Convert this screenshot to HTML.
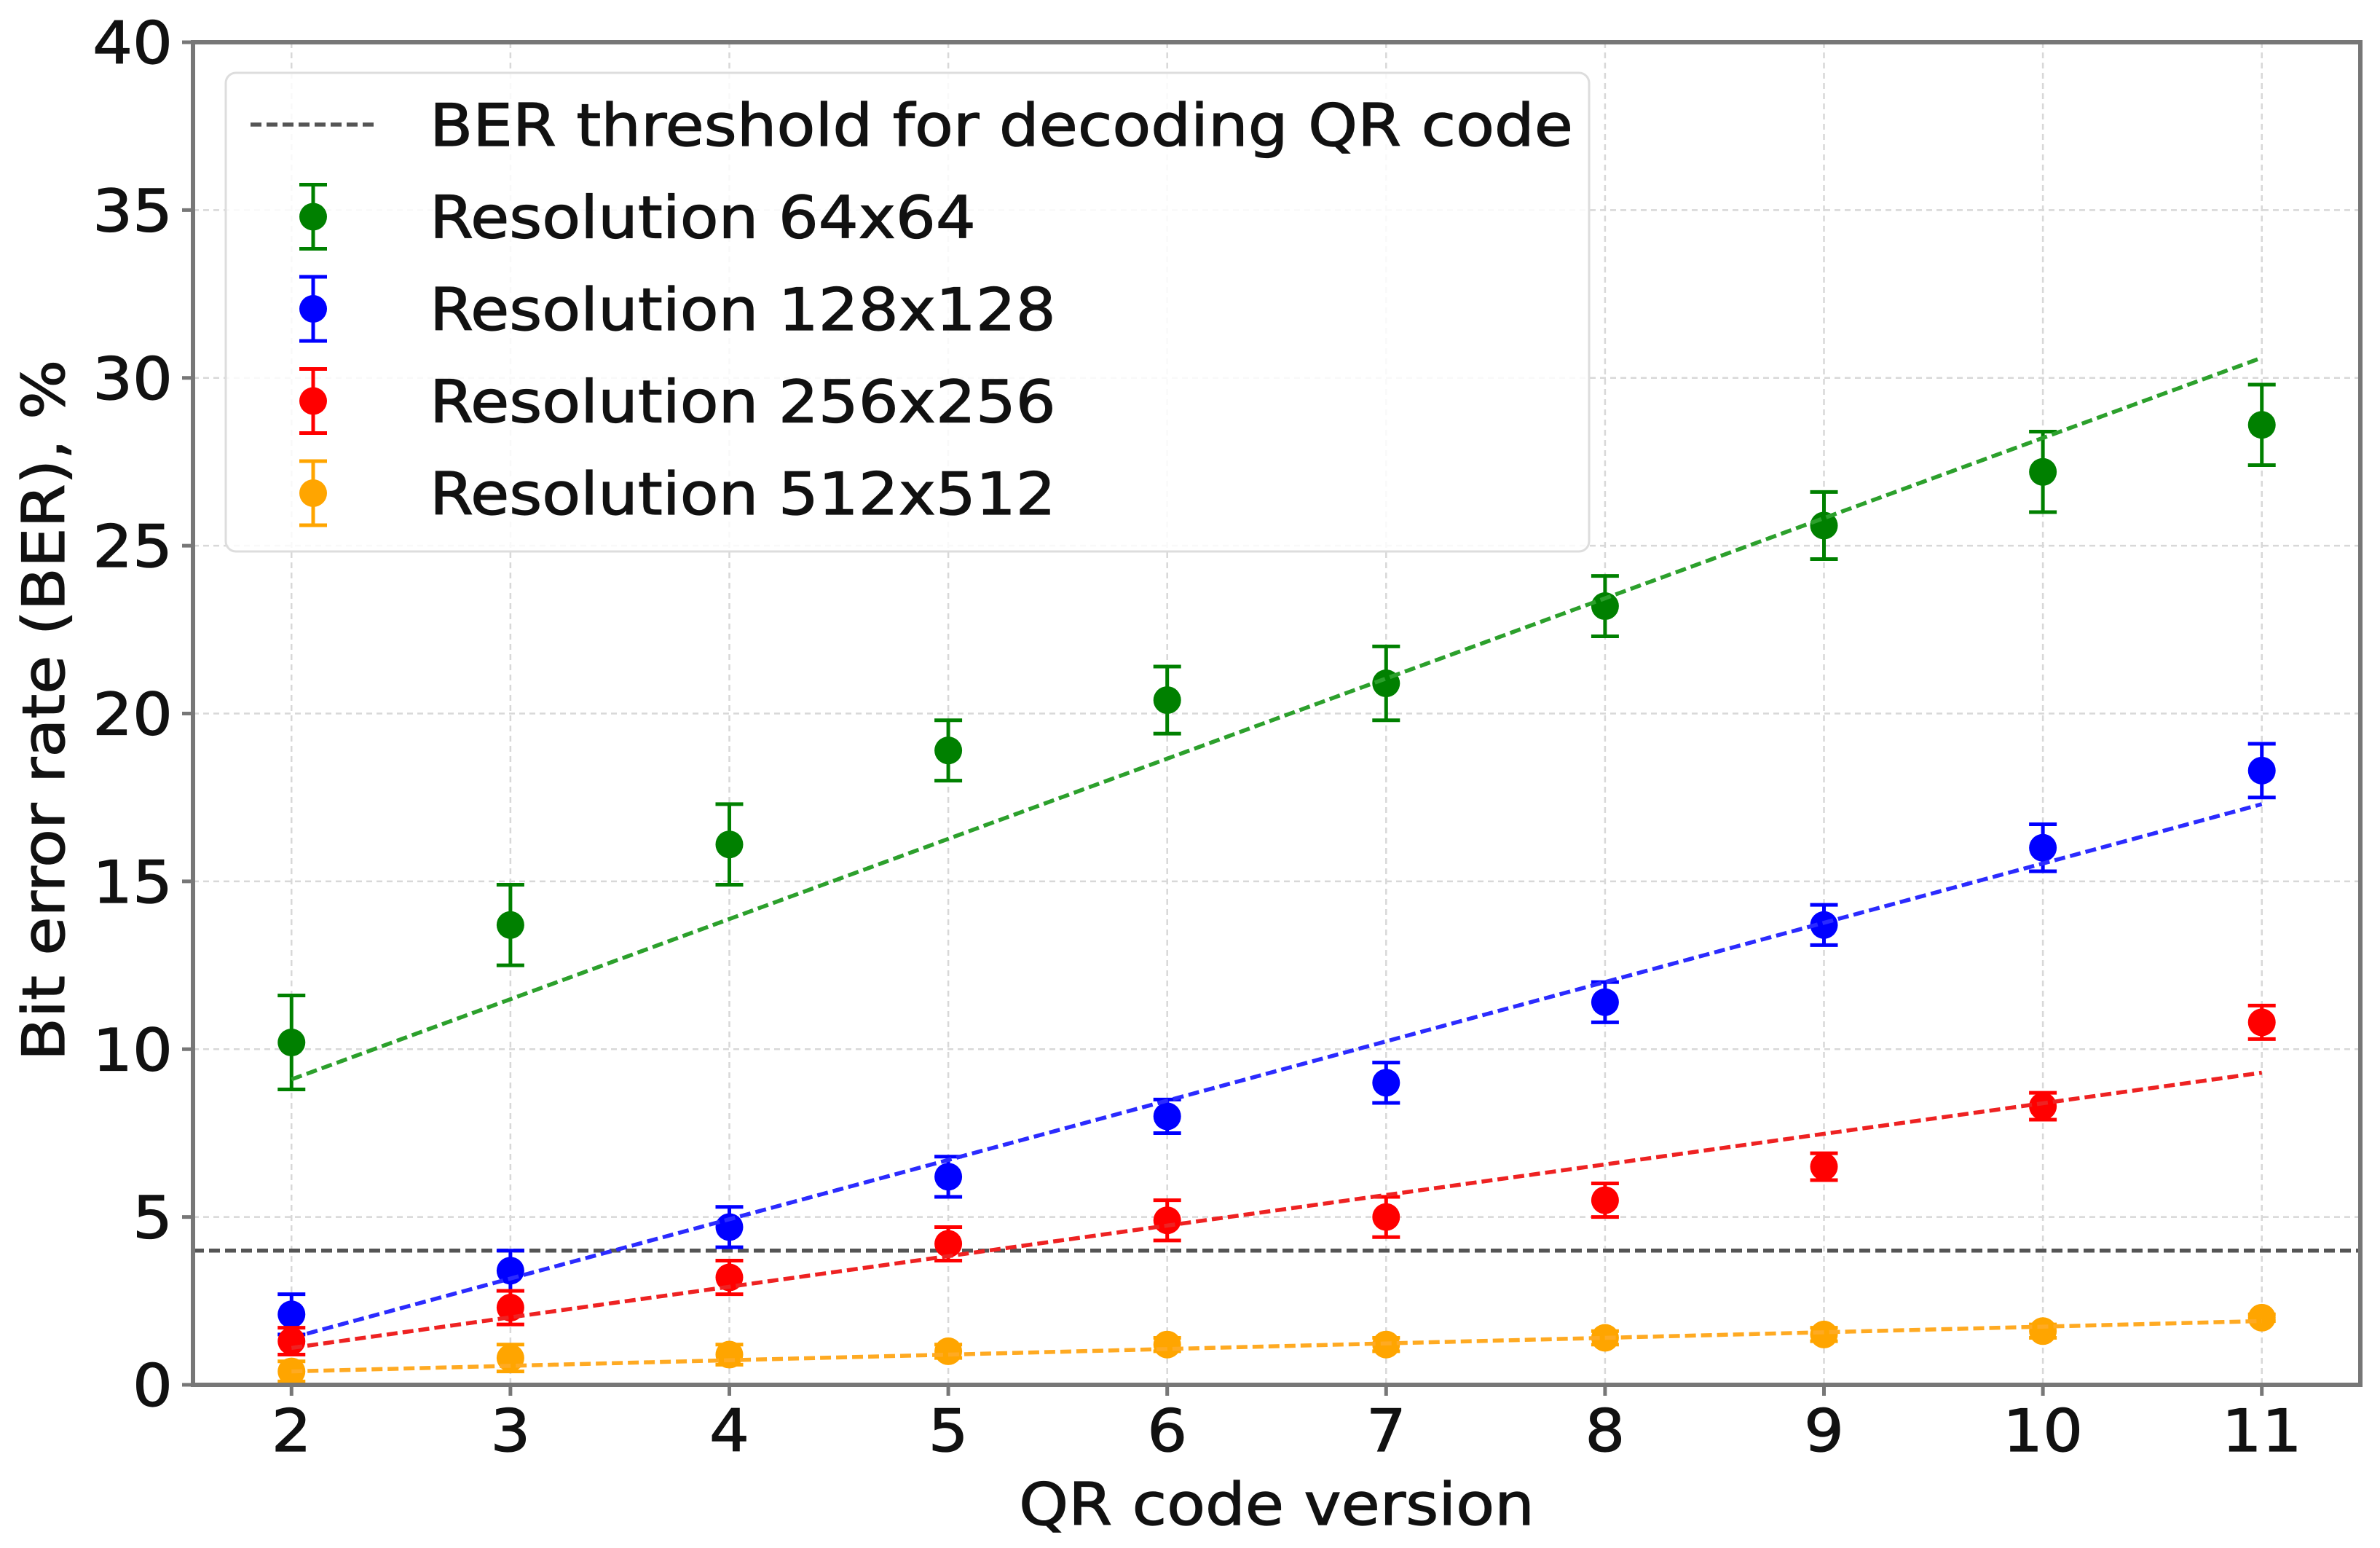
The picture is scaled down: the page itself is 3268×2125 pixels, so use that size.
<!DOCTYPE html>
<html><head><meta charset="utf-8"><style>
html,body{margin:0;padding:0;background:#fff;}
svg{display:block;font-family:"DejaVu Sans","Liberation Sans",sans-serif;}
text{stroke:#111;stroke-width:1.2px;}
</style></head><body>
<svg id="chart" width="3268" height="2125" viewBox="0 0 3268 2125" xmlns="http://www.w3.org/2000/svg"></svg>
<script>
const versions=[2,3,4,5,6,7,8,9,10,11];
const xTicks=[2,3,4,5,6,7,8,9,10,11];
const yTicks=[0,5,10,15,20,25,30,35,40];
const threshold=4.0;
const green=[10.2,13.7,16.1,18.9,20.4,20.9,23.2,25.6,27.2,28.6];
const greenErr=[1.4,1.2,1.2,0.9,1.0,1.1,0.9,1.0,1.2,1.2];
const greenFit=[9.1,30.6];
const blue=[2.1,3.4,4.7,6.2,8.0,9.0,11.4,13.7,16.0,18.3];
const blueErr=[0.6,0.6,0.6,0.6,0.5,0.6,0.6,0.6,0.7,0.8];
const blueFit=[1.4,17.3];
const red=[1.3,2.3,3.2,4.2,4.9,5.0,5.5,6.5,8.3,10.8];
const redErr=[0.4,0.5,0.5,0.5,0.6,0.6,0.5,0.4,0.4,0.5];
const redFit=[1.1,9.3];
const orange=[0.4,0.8,0.9,1.0,1.2,1.2,1.4,1.5,1.6,2.0];
const orangeErr=[0.3,0.4,0.3,0.2,0.2,0.2,0.2,0.2,0.2,0.1];
const orangeFit=[0.4,1.9];

const L=265,R=3241,T=58,B=1901;
const xMin=1.55,xMax=11.45,yMin=0,yMax=40;
const X=v=>L+(v-xMin)/(xMax-xMin)*(R-L);
const Y=v=>B-(v-yMin)/(yMax-yMin)*(B-T);
const svg=document.getElementById('chart');
const NS='http://www.w3.org/2000/svg';
const SX=1.08;
function el(tag,attrs,parent){const e=document.createElementNS(NS,tag);for(const k in attrs)e.setAttribute(k,attrs[k]);(parent||svg).appendChild(e);return e;}
function txt(x,y,s,anchor,parent,extra){
 const t=el('text',Object.assign({x:0,y:0,'text-anchor':anchor,'font-size':80,fill:'#111',transform:`translate(${x},${y}) scale(${SX},1)`},extra||{}),parent);
 t.textContent=s;return t;
}

const grid=el('g',{});


xTicks.forEach(t=>{el('line',{x1:X(t),x2:X(t),y1:T,y2:B,stroke:'#d8d8d8','stroke-width':2.5,'stroke-dasharray':'8 6'},grid);});
yTicks.forEach(t=>{el('line',{x1:L,x2:R,y1:Y(t),y2:Y(t),stroke:'#d8d8d8','stroke-width':2.5,'stroke-dasharray':'8 6'},grid);});

const th=el('line',{x1:L,x2:R,y1:Y(threshold),y2:Y(threshold),stroke:'#555','stroke-width':5.5,'stroke-dasharray':'15 7'});



const series=[
 {name:'res-64',c:'green',v:green,e:greenErr,f:greenFit,fc:'#2ca02c'},
 {name:'res-128',c:'#0000ff',v:blue,e:blueErr,f:blueFit,fc:'#2b2bff'},
 {name:'res-256',c:'#ff0000',v:red,e:redErr,f:redFit,fc:'#ee2222'},
 {name:'res-512',c:'#ffa500',v:orange,e:orangeErr,f:orangeFit,fc:'#ffaa22'}
];
series.forEach(s=>{
 const g=el('g',{});
 
 
 s.v.forEach((v,i)=>{
  const x=X(versions[i]);
  el('line',{x1:x,x2:x,y1:Y(v-s.e[i]),y2:Y(v+s.e[i]),stroke:s.c,'stroke-width':5},g);
  el('line',{x1:x-19,x2:x+19,y1:Y(v-s.e[i]),y2:Y(v-s.e[i]),stroke:s.c,'stroke-width':5},g);
  el('line',{x1:x-19,x2:x+19,y1:Y(v+s.e[i]),y2:Y(v+s.e[i]),stroke:s.c,'stroke-width':5},g);
  const c=el('circle',{cx:x,cy:Y(v),r:19,fill:s.c},g);
  
  
 });
 const fl=el('line',{x1:X(versions[0]),x2:X(versions[versions.length-1]),y1:Y(s.f[0]),y2:Y(s.f[1]),stroke:s.fc,'stroke-width':5.5,'stroke-dasharray':'15 7'},g);
 
 
});

const fr=el('rect',{x:L,y:T,width:R-L,height:B-T,fill:'none',stroke:'#777','stroke-width':6});



xTicks.forEach(t=>{
 el('line',{x1:X(t),x2:X(t),y1:B,y2:B+15,stroke:'#777','stroke-width':5});
 const tx=txt(X(t),1992,String(t),'middle');
 
 
});
yTicks.forEach(t=>{
 el('line',{x1:L-15,x2:L,y1:Y(t),y2:Y(t),stroke:'#777','stroke-width':5});
 const tx=txt(237,Y(t)+29,String(t),'end');
 
 
});

const xl=txt(1753,2093,'QR code version','middle');


const yl=el('text',{x:0,y:0,'text-anchor':'middle','font-size':80,fill:'#111',transform:`translate(88,975) rotate(-90) scale(${SX},1)`});
yl.textContent='Bit error rate (BER), %';



const lg=el('g',{});


el('rect',{x:310,y:100,width:1872,height:657,rx:14,fill:'#fff','fill-opacity':0.85,stroke:'#ddd','stroke-width':3},lg);
const entries=[
 {t:'BER threshold for decoding QR code',c:'#555',line:true},
 {t:'Resolution 64x64',c:'green'},
 {t:'Resolution 128x128',c:'#0000ff'},
 {t:'Resolution 256x256',c:'#ff0000'},
 {t:'Resolution 512x512',c:'#ffa500'}
];
entries.forEach((en,i)=>{
 const y=171+i*126.5;
 const g=el('g',{},lg);
 
 
 if(en.line){el('line',{x1:344,x2:517,y1:y,y2:y,stroke:en.c,'stroke-width':5.5,'stroke-dasharray':'15 7'},g);}
 else{
  el('line',{x1:430,x2:430,y1:y-44,y2:y+44,stroke:en.c,'stroke-width':5},g);
  el('line',{x1:411,x2:449,y1:y-44,y2:y-44,stroke:en.c,'stroke-width':5},g);
  el('line',{x1:411,x2:449,y1:y+44,y2:y+44,stroke:en.c,'stroke-width':5},g);
  el('circle',{cx:430,cy:y,r:19,fill:en.c},g);
 }
 txt(590,y+29,en.t,'start',g);
});
</script>
</body></html>
